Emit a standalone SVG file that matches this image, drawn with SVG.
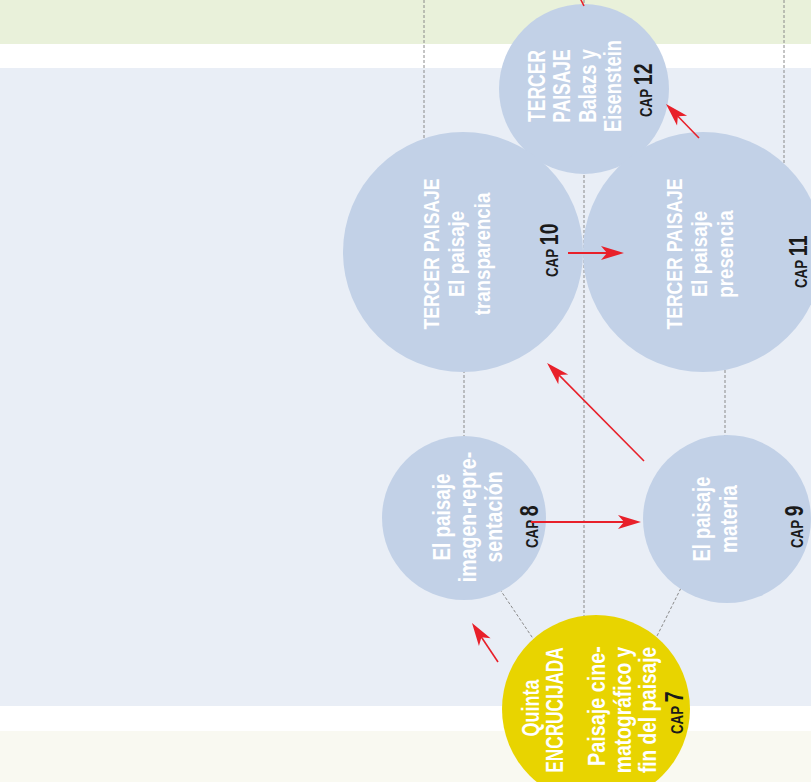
<svg xmlns="http://www.w3.org/2000/svg" width="811" height="782" viewBox="0 0 811 782">
<style>
.bg{stroke:none}
.dash{stroke:#8a8a8a;stroke-width:1;stroke-dasharray:3 2;fill:none}
.node{fill:#c2d1e7}
.yel{fill:#e8d400}
.t{font-family:"Liberation Sans",Arial,sans-serif;font-weight:bold;fill:#ffffff;text-anchor:middle}
.cap{font-family:"Liberation Sans",Arial,sans-serif;font-weight:bold;fill:#1a1a1a}
.arr{stroke:#e8202a;fill:none}
</style>
<defs>
<marker id="ah" viewBox="-25 -8 27 16" refX="-9" refY="0" markerWidth="27" markerHeight="16" markerUnits="userSpaceOnUse" orient="auto">
<path d="M0,0 L-23,-7 L-17,0 L-23,7 Z" fill="#e8202a"/>
</marker>
</defs>
<g id="background">
<rect x="0" y="0" width="811" height="44" fill="#e9f1da"/>
<rect x="0" y="44" width="811" height="24" fill="#ffffff"/>
<rect x="0" y="68" width="811" height="638" fill="#e9eef6"/>
<rect x="0" y="706" width="811" height="25" fill="#ffffff"/>
<rect x="0" y="731" width="811" height="51" fill="#f9f9f1"/>
</g>
<g id="guides">
<line class="dash" x1="424" y1="0" x2="424" y2="200"/>
<line class="dash" x1="784" y1="0" x2="784" y2="200"/>
<line class="dash" x1="584" y1="0" x2="584" y2="640"/>
<line class="dash" x1="464" y1="300" x2="464" y2="470"/>
<line class="dash" x1="725" y1="300" x2="725" y2="470"/>
<line class="dash" x1="497" y1="585" x2="534" y2="640"/>
<line class="dash" x1="683" y1="584" x2="655" y2="640"/>
</g>
<g id="node-cap12">
<circle class="node" cx="584" cy="89" r="85"/>
<text class="t" font-size="23" transform="translate(545,86) rotate(-90) scale(0.76,1)">TERCER</text>
<text class="t" font-size="23" transform="translate(570,86) rotate(-90) scale(0.76,1)">PAISAJE</text>
<text class="t" font-size="23" transform="translate(596,86) rotate(-90) scale(0.8,1)">Balazs y</text>
<text class="t" font-size="23" transform="translate(621,86) rotate(-90) scale(0.8,1)">Eisenstein</text>
<text class="cap" transform="translate(652,117) rotate(-90) scale(0.78,1)"><tspan font-size="17">CAP</tspan><tspan font-size="25" dx="5">12</tspan></text>
</g>
<g id="node-cap10">
<circle class="node" cx="463" cy="252" r="120"/>
<text class="t" font-size="22" transform="translate(439,254) rotate(-90) scale(0.8,1)">TERCER PAISAJE</text>
<text class="t" font-size="22" transform="translate(464,254) rotate(-90) scale(0.85,1)">El paisaje</text>
<text class="t" font-size="22" transform="translate(490,254) rotate(-90) scale(0.85,1)">transparencia</text>
<text class="cap" transform="translate(558,277) rotate(-90) scale(0.78,1)"><tspan font-size="17">CAP</tspan><tspan font-size="25" dx="5">10</tspan></text>
</g>
<g id="node-cap11">
<circle class="node" cx="703" cy="252" r="120"/>
<text class="t" font-size="22" transform="translate(682,254) rotate(-90) scale(0.8,1)">TERCER PAISAJE</text>
<text class="t" font-size="22" transform="translate(707,254) rotate(-90) scale(0.85,1)">El paisaje</text>
<text class="t" font-size="22" transform="translate(733,254) rotate(-90) scale(0.85,1)">presencia</text>
<text class="cap" transform="translate(807,288) rotate(-90) scale(0.78,1)"><tspan font-size="17">CAP</tspan><tspan font-size="25" dx="5">11</tspan></text>
</g>
<g id="node-cap8">
<circle class="node" cx="464" cy="518" r="82"/>
<text class="t" font-size="23" transform="translate(450,517) rotate(-90) scale(0.82,1)">El paisaje</text>
<text class="t" font-size="23" transform="translate(476,517) rotate(-90) scale(0.85,1)">imagen-repre-</text>
<text class="t" font-size="23" transform="translate(502,517) rotate(-90) scale(0.85,1)">sentación</text>
<text class="cap" transform="translate(538,548) rotate(-90) scale(0.78,1)"><tspan font-size="17">CAP</tspan><tspan font-size="25" dx="5">8</tspan></text>
</g>
<g id="node-cap9">
<circle class="node" cx="727" cy="519" r="84"/>
<text class="t" font-size="23" transform="translate(710,519) rotate(-90) scale(0.8,1)">El paisaje</text>
<text class="t" font-size="23" transform="translate(737,519) rotate(-90) scale(0.83,1)">materia</text>
<text class="cap" transform="translate(803,548) rotate(-90) scale(0.78,1)"><tspan font-size="17">CAP</tspan><tspan font-size="25" dx="5">9</tspan></text>
</g>
<g id="node-cap7">
<circle class="yel" cx="596" cy="709" r="94"/>
<text class="t" font-size="23" transform="translate(539,708) rotate(-90) scale(0.78,1)">Quinta</text>
<text class="t" font-size="23" transform="translate(563,710) rotate(-90) scale(0.75,1)">ENCRUCIJADA</text>
<text class="t" font-size="23" transform="translate(605,706) rotate(-90) scale(0.86,1)">Paisaje cine-</text>
<text class="t" font-size="23" transform="translate(631,710) rotate(-90) scale(0.84,1)">matográfico y</text>
<text class="t" font-size="23" transform="translate(656,710) rotate(-90) scale(0.83,1)">fin del paisaje</text>
<text class="cap" transform="translate(683,734) rotate(-90) scale(0.78,1)"><tspan font-size="17">CAP</tspan><tspan font-size="25" dx="5">7</tspan></text>
</g>
<g id="connectors">
<line class="arr" stroke-width="2.2" x1="568" y1="253" x2="615" y2="253" marker-end="url(#ah)"/>
<line class="arr" stroke-width="2.2" x1="531" y1="522" x2="632" y2="522" marker-end="url(#ah)"/>
<line class="arr" stroke-width="1.6" x1="644" y1="461" x2="553.4" y2="369.4" marker-end="url(#ah)"/>
<line class="arr" stroke-width="1.6" x1="699" y1="138" x2="672.3" y2="110.5" marker-end="url(#ah)"/>
<line class="arr" stroke-width="1.6" x1="498" y1="662" x2="477" y2="630.5" marker-end="url(#ah)"/>
<line class="arr" stroke-width="1.6" x1="584" y1="6" x2="580" y2="-2"/>
</g>
</svg>
